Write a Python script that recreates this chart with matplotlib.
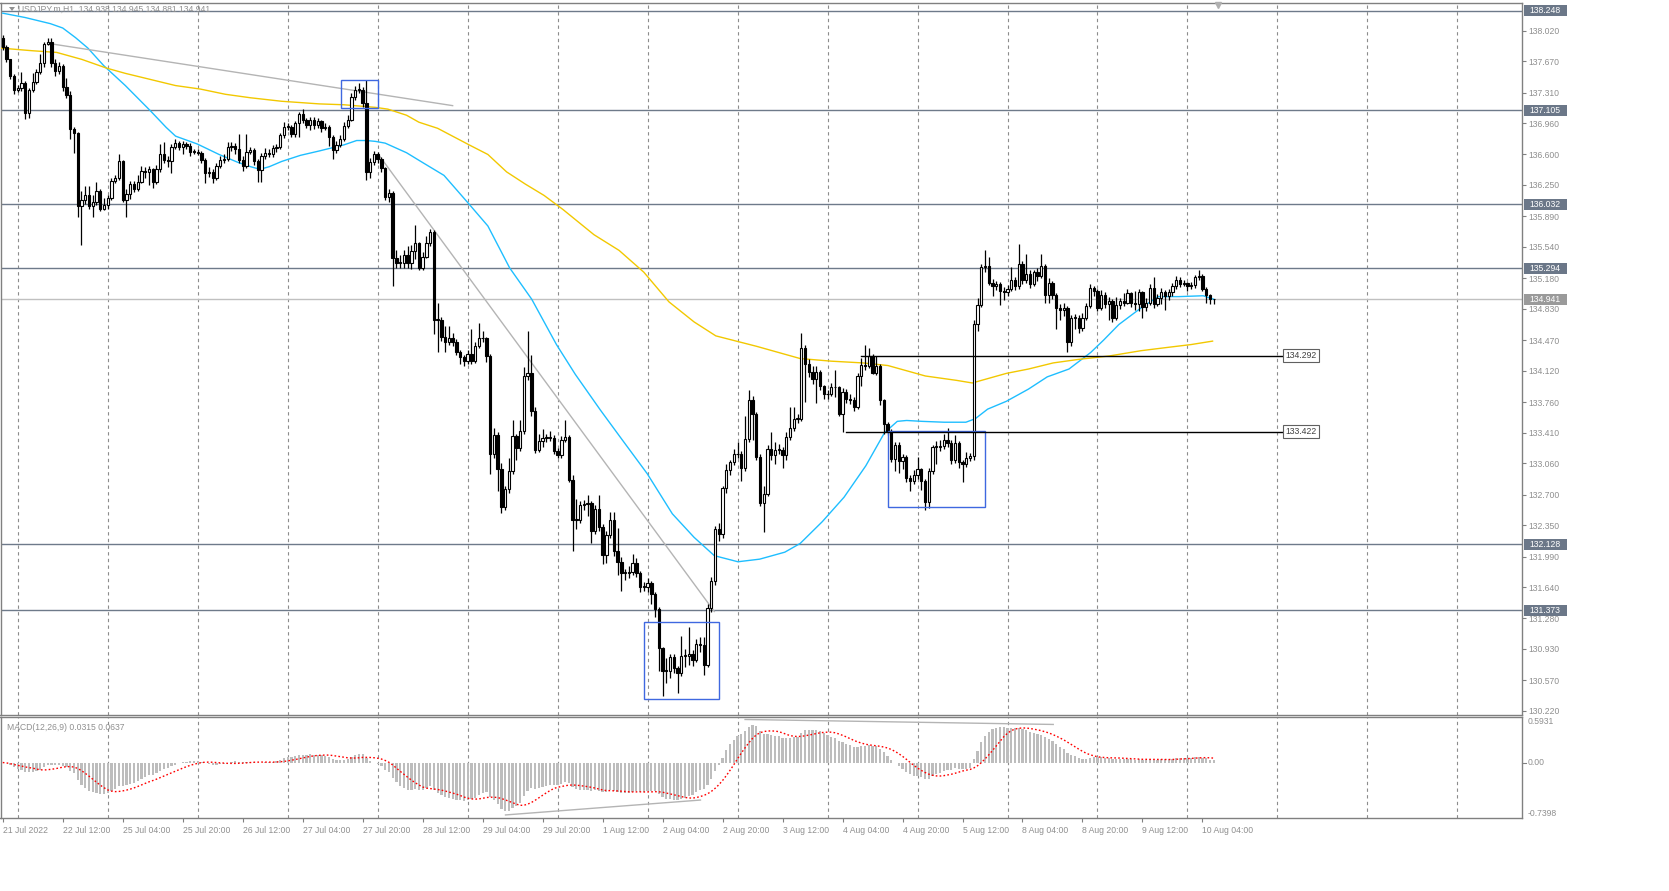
import matplotlib
matplotlib.use('Agg')
import matplotlib.pyplot as plt
import matplotlib.transforms as mtransforms
from matplotlib.patches import Rectangle, Polygon
import numpy as np
import pandas as pd

plt.rcParams['font.family'] = ['Liberation Sans', 'DejaVu Sans']

# ---- data (USDJPY.m H1, bar 0 = 21 Jul 2022 20:00) ----
first_open = 137.94
closes = [
    137.83, 137.69, 137.50, 137.34, 137.36, 137.42, 137.07, 137.34, 137.43, 137.55,
    137.65, 137.87, 137.89, 137.65, 137.56, 137.62, 137.37, 137.28, 136.89, 136.85,
    136.01, 136.08, 136.13, 136.01, 136.06, 136.18, 135.98, 136.02, 136.10, 136.30,
    136.33, 136.52, 136.08, 136.15, 136.26, 136.20, 136.29, 136.41, 136.40, 136.43,
    136.29, 136.43, 136.60, 136.54, 136.53, 136.69, 136.73, 136.69, 136.72, 136.70,
    136.63, 136.63, 136.62, 136.54, 136.39, 136.40, 136.33, 136.47, 136.54, 136.55,
    136.69, 136.70, 136.66, 136.54, 136.47, 136.63, 136.65, 136.52, 136.42, 136.58,
    136.62, 136.61, 136.67, 136.69, 136.82, 136.92, 136.92, 136.84, 136.96, 137.06,
    136.99, 136.94, 137.00, 136.94, 136.98, 136.90, 136.92, 136.80, 136.65, 136.71,
    136.78, 136.93, 137.00, 137.26, 137.34, 137.34, 137.19, 136.40, 136.51, 136.60,
    136.55, 136.44, 136.11, 136.16, 135.41, 135.36, 135.36, 135.45, 135.36, 135.49,
    135.58, 135.30, 135.43, 135.58, 135.71, 134.70, 134.70, 134.51, 134.45, 134.50,
    134.45, 134.33, 134.28, 134.23, 134.31, 134.23, 134.40, 134.49, 134.49, 134.29,
    133.16, 133.38, 132.99, 132.56, 132.76, 132.97, 133.37, 133.23, 133.43, 134.06,
    134.10, 133.66, 133.21, 133.31, 133.35, 133.35, 133.35, 133.20, 133.15, 133.33,
    133.36, 132.87, 132.41, 132.41, 132.58, 132.59, 132.60, 132.28, 132.53, 132.33,
    132.01, 132.24, 132.41, 132.05, 131.93, 131.80, 131.80, 131.81, 131.92, 131.80,
    131.64, 131.64, 131.69, 131.56, 131.39, 130.94, 130.68, 130.68, 130.84, 130.71,
    130.65, 130.85, 130.85, 130.87, 130.80, 130.99, 130.98, 130.75, 131.40, 131.71,
    132.31, 132.25, 132.78, 132.98, 133.07, 133.16, 133.17, 133.00, 133.34, 133.79,
    133.62, 133.13, 132.60, 132.71, 133.22, 133.15, 133.21, 133.21, 133.15, 133.36,
    133.46, 133.57, 133.57, 134.38, 134.20, 134.11, 134.03, 134.11, 133.94, 133.85,
    133.85, 133.93, 133.93, 133.62, 133.88, 133.80, 133.78, 133.70, 134.06, 134.19,
    134.17, 134.29, 134.10, 134.18, 133.78, 133.51, 133.43, 133.11, 133.27, 133.08,
    133.13, 132.89, 132.86, 132.92, 132.99, 132.86, 132.61, 132.97, 133.25, 133.25,
    133.26, 133.33, 133.29, 133.10, 133.29, 133.07, 133.05, 133.12, 133.14, 134.66,
    134.87, 135.31, 135.32, 135.13, 135.09, 135.11, 135.03, 135.02, 135.06, 135.16,
    135.09, 135.34, 135.16, 135.23, 135.11, 135.25, 135.21, 135.32, 134.99, 135.13,
    134.99, 134.84, 134.82, 134.84, 134.45, 134.73, 134.73, 134.61, 134.73, 134.86,
    135.07, 135.04, 134.84, 134.99, 134.88, 134.92, 134.73, 134.87, 134.92, 134.90,
    135.01, 134.90, 134.88, 135.02, 134.85, 134.90, 135.07, 134.89, 134.95, 135.02,
    134.98, 135.02, 135.09, 135.16, 135.11, 135.13, 135.09, 135.10, 135.19, 135.21,
    135.06, 134.99, 134.94, 134.941,
]
highs = [
    137.97, 137.85, 137.70, 137.52, 137.40, 137.55, 137.44, 137.36, 137.53, 137.58,
    137.75, 137.89, 137.94, 137.94, 137.70, 137.66, 137.64, 137.48, 137.33, 136.92,
    136.86, 136.18, 136.24, 136.24, 136.14, 136.28, 136.20, 136.10, 136.14, 136.33,
    136.36, 136.61, 136.54, 136.20, 136.30, 136.30, 136.36, 136.47, 136.46, 136.47,
    136.45, 136.48, 136.72, 136.74, 136.58, 136.72, 136.78, 136.76, 136.75, 136.74,
    136.73, 136.66, 136.66, 136.64, 136.56, 136.46, 136.43, 136.50, 136.58, 136.60,
    136.74, 136.74, 136.73, 136.83, 136.58, 136.83, 136.69, 136.67, 136.55, 136.62,
    136.67, 136.66, 136.71, 136.72, 136.85, 136.97, 136.96, 136.94, 136.98, 137.09,
    137.12, 137.02, 137.03, 137.03, 137.02, 137.00, 136.96, 136.94, 136.82, 136.75,
    136.82, 136.97, 137.05, 137.30, 137.38, 137.42, 137.37, 137.45, 136.56, 136.64,
    136.63, 136.57, 136.46, 136.20, 136.18, 135.50, 135.45, 135.50, 135.55, 135.56,
    135.79, 135.60, 135.48, 135.66, 135.75, 135.73, 134.90, 134.74, 134.63, 134.63,
    134.55, 134.48, 134.36, 134.30, 134.36, 134.60, 134.45, 134.67, 134.58, 134.51,
    134.31, 133.46, 133.42, 133.06, 132.80, 133.12, 133.55, 133.40, 133.55, 134.16,
    134.58, 134.30, 133.70, 133.40, 133.45, 133.40, 133.43, 133.38, 133.24, 133.37,
    133.55, 133.38, 132.92, 132.65, 132.63, 132.64, 132.70, 132.63, 132.58, 132.70,
    132.36, 132.28, 132.50, 132.50, 132.32, 131.98, 131.85, 131.88, 132.02, 131.97,
    131.82, 131.70, 131.74, 131.71, 131.58, 131.41, 130.95, 130.83, 130.87, 130.87,
    130.73, 131.08, 130.93, 131.18, 130.92, 131.05, 131.07, 131.07, 131.44, 131.75,
    132.34, 132.37, 132.80, 133.05, 133.10, 133.22, 133.30, 133.20, 133.60, 133.90,
    133.83, 133.65, 133.16, 132.80, 133.27, 133.42, 133.30, 133.28, 133.25, 133.42,
    133.70, 133.70, 133.62, 134.55, 134.41, 134.26, 134.17, 134.17, 134.13, 133.96,
    133.90, 133.98, 134.13, 133.95, 133.92, 133.91, 133.85, 133.82, 134.10, 134.27,
    134.42, 134.38, 134.31, 134.29, 134.20, 133.80, 133.53, 133.45, 133.30, 133.30,
    133.17, 133.15, 132.93, 132.98, 133.13, 133.01, 132.88, 133.01, 133.27, 133.32,
    133.33, 133.40, 133.46, 133.33, 133.38, 133.31, 133.10, 133.19, 133.18, 134.70,
    134.95, 135.34, 135.50, 135.42, 135.17, 135.15, 135.14, 135.08, 135.10, 135.31,
    135.20, 135.57, 135.38, 135.46, 135.27, 135.28, 135.30, 135.46, 135.34, 135.18,
    135.15, 135.01, 134.88, 134.90, 134.86, 134.76, 134.77, 134.76, 134.78, 134.90,
    135.11, 135.09, 135.06, 135.05, 135.02, 134.97, 134.94, 134.97, 134.96, 135.01,
    135.06, 135.02, 135.04, 135.06, 135.04, 134.95, 135.11, 135.19, 135.00, 135.07,
    135.05, 135.06, 135.13, 135.21, 135.20, 135.16, 135.14, 135.14, 135.22, 135.28,
    135.23, 135.08, 135.00, 134.945,
]
lows = [
    137.80, 137.66, 137.47, 137.29, 137.32, 137.33, 137.01, 137.02, 137.32, 137.41,
    137.52, 137.60, 137.85, 137.60, 137.50, 137.52, 137.33, 137.25, 136.78, 136.62,
    135.88, 135.56, 136.03, 135.97, 135.88, 136.02, 135.95, 135.96, 135.98, 136.08,
    136.27, 136.31, 136.05, 135.88, 136.09, 136.17, 136.18, 136.27, 136.33, 136.25,
    136.22, 136.26, 136.40, 136.50, 136.46, 136.39, 136.66, 136.65, 136.60, 136.66,
    136.58, 136.60, 136.59, 136.50, 136.27, 136.34, 136.27, 136.31, 136.44, 136.50,
    136.53, 136.64, 136.60, 136.50, 136.41, 136.45, 136.60, 136.48, 136.29, 136.29,
    136.55, 136.57, 136.57, 136.63, 136.66, 136.79, 136.88, 136.80, 136.80, 136.80,
    136.96, 136.90, 136.88, 136.89, 136.90, 136.86, 136.88, 136.70, 136.55, 136.62,
    136.69, 136.76, 136.90, 136.98, 137.23, 137.30, 137.15, 136.31, 136.33, 136.48,
    136.50, 136.40, 136.08, 136.05, 135.09, 135.30, 135.30, 135.30, 135.30, 135.29,
    135.40, 135.28, 135.28, 135.41, 135.55, 134.54, 134.33, 134.46, 134.33, 134.42,
    134.40, 134.30, 134.20, 134.18, 134.20, 134.20, 134.21, 134.38, 134.45, 134.22,
    132.94, 133.12, 132.74, 132.49, 132.52, 132.72, 132.94, 133.10, 133.20, 133.40,
    134.01, 133.60, 133.18, 133.19, 133.25, 133.30, 133.31, 133.17, 133.12, 133.12,
    133.30, 132.84, 132.05, 132.30, 132.38, 132.52, 132.46, 132.15, 132.25, 132.28,
    131.90, 131.92, 132.20, 132.00, 131.78, 131.60, 131.72, 131.74, 131.78, 131.75,
    131.58, 131.60, 131.58, 131.45, 131.30, 130.68, 130.39, 130.54, 130.60, 130.65,
    130.42, 130.62, 130.72, 130.75, 130.74, 130.78, 130.90, 130.63, 130.72, 131.35,
    131.66, 132.17, 132.20, 132.72, 132.93, 133.04, 133.12, 132.86, 132.97, 133.30,
    133.33, 133.10, 132.57, 132.27, 132.68, 133.10, 133.05, 133.16, 133.00, 133.10,
    133.33, 133.43, 133.52, 133.54, 133.76, 134.05, 133.97, 133.75, 133.90, 133.80,
    133.80, 133.83, 133.82, 133.60, 133.42, 133.75, 133.74, 133.66, 133.68, 133.95,
    134.13, 134.15, 134.08, 134.07, 133.73, 133.40, 133.38, 133.07, 132.97, 132.95,
    132.99, 132.84, 132.74, 132.82, 132.88, 132.75, 132.52, 132.55, 132.94, 133.05,
    133.20, 133.22, 133.25, 133.05, 133.06, 133.00, 132.84, 133.02, 133.08, 133.10,
    134.58, 134.85, 135.25, 135.10, 134.98, 135.05, 134.87, 134.93, 134.98, 135.04,
    135.05, 135.06, 135.12, 135.13, 135.07, 135.09, 135.15, 135.18, 134.90, 134.90,
    134.94, 134.60, 134.70, 134.75, 134.34, 134.40, 134.60, 134.55, 134.58, 134.70,
    134.84, 134.98, 134.80, 134.82, 134.84, 134.70, 134.68, 134.70, 134.83, 134.86,
    134.88, 134.85, 134.82, 134.80, 134.73, 134.80, 134.87, 134.84, 134.86, 134.88,
    134.82, 134.93, 134.98, 135.06, 135.08, 135.09, 135.03, 135.06, 135.07, 135.16,
    135.03, 134.90, 134.89, 134.881,
]

# moving averages (bar, price)
ma_fast_bar = [0, 6, 12.7, 16, 19.4, 22.7, 26.9, 32.7, 39.4, 43.6, 46.1, 51.9, 57.7,
               62.7, 66.1, 68.6, 71.1, 74.4, 79.4, 84.4, 91, 94.4, 97, 99.4, 102,
               107.7, 111.9, 117.7, 124.4, 129.4, 135.2, 141.1, 147.7, 152.7, 159.4,
               165.2, 171.9, 178.6, 184.4, 189.8, 196.1, 201.9, 208.6, 212.7, 218.6,
               224.4, 230.2, 235.2, 238.6, 241.1, 245.2, 251.1, 256.9, 259.4, 262.7,
               267.7, 273.6, 278.6, 284.4, 290.2, 293.6, 297.7, 303.6, 308.2, 313.6,
               320.2, 323]
ma_fast_val = [138.22, 138.17, 138.10, 138.05, 137.94, 137.82, 137.62, 137.39, 137.10,
               136.91, 136.81, 136.72, 136.60, 136.51, 136.46, 136.43, 136.46, 136.52,
               136.59, 136.64, 136.71, 136.76, 136.76, 136.75, 136.73, 136.62, 136.51,
               136.36, 136.03, 135.78, 135.30, 134.94, 134.42, 134.08, 133.67, 133.33,
               132.94, 132.48, 132.21, 132.00, 131.93, 131.96, 132.04, 132.14, 132.39,
               132.67, 133.03, 133.41, 133.54, 133.55, 133.54, 133.53, 133.53, 133.57,
               133.68, 133.77, 133.91, 134.05, 134.14, 134.33, 134.47, 134.65, 134.84,
               134.97, 134.97, 134.98, 134.94]
ma_slow_bar = [-0.6, 7.7, 14.4, 21.1, 27.7, 32.7, 39.4, 46.1, 52.7, 59.4, 66.1, 74.4,
               84.4, 91, 99.4, 102.7, 107.7, 111, 116, 124.4, 129.4, 134.4, 139.4,
               144.4, 149.4, 157.7, 164.4, 171, 177.7, 184.4, 190.2, 201.1, 212.7, 221,
               229.4, 236.1, 246.1, 254.4, 258.6, 261.9, 267.7, 273.6, 280.2, 286.9,
               295.2, 303.6, 311.1, 316.9, 322.7]
ma_slow_val = [137.82, 137.79, 137.77, 137.69, 137.59, 137.53, 137.46, 137.39, 137.35,
               137.29, 137.25, 137.21, 137.18, 137.17, 137.14, 137.12, 137.05, 136.97,
               136.90, 136.71, 136.60, 136.40, 136.26, 136.13, 135.97, 135.68, 135.50,
               135.25, 134.91, 134.68, 134.52, 134.40, 134.26, 134.23, 134.21, 134.18,
               134.06, 134.01, 133.98, 134.02, 134.09, 134.14, 134.21, 134.25, 134.29,
               134.35, 134.39, 134.42, 134.46]

levels = [138.248, 137.105, 136.032, 135.294, 132.128, 131.373]
bid = 134.941
price_ticks = [138.020, 137.670, 137.310, 136.960, 136.600, 136.250, 135.890, 135.540,
               135.180, 134.830, 134.470, 134.120, 133.760, 133.410, 133.060, 132.700,
               132.350, 131.990, 131.640, 131.280, 130.930, 130.570, 130.220]
date_labels = ['21 Jul 2022', '22 Jul 12:00', '25 Jul 04:00', '25 Jul 20:00', '26 Jul 12:00',
               '27 Jul 04:00', '27 Jul 20:00', '28 Jul 12:00', '29 Jul 04:00', '29 Jul 20:00',
               '1 Aug 12:00', '2 Aug 04:00', '2 Aug 20:00', '3 Aug 12:00', '4 Aug 04:00',
               '4 Aug 20:00', '5 Aug 12:00', '8 Aug 04:00', '8 Aug 20:00', '9 Aug 12:00',
               '10 Aug 04:00']
date_label_bars = list(range(0, 321, 16))
day_start_bars = list(range(4, 405, 24))

# drawn objects (bar, price)
trend_lines = [((12.7, 137.87), (120.0, 137.16)), ((100.2, 136.60), (189.8, 131.36))]
boxes = [((90.1, 137.13), (100.2, 137.455)), ((171.1, 130.36), (191.0, 131.234)),
         ((236.0, 132.553), (262.0, 133.424))]
price_marks = [(229.0, 134.292), (224.9, 133.422)]
mark_end = 341.5
macd_lines = [((134.1, -0.739), (186.1, -0.529)), ((198.0, 0.607), (280.2, 0.537))]

# ---- figure ----
W, H = 1669, 891
fig = plt.figure(figsize=(W / 100, H / 100), dpi=100)
AX_L, AX_R = 0.5, 1521.5
ax = fig.add_axes([AX_L / W, 1 - 715 / H, (AX_R - AX_L) / W, (715 - 2.5) / H])
axm = fig.add_axes([AX_L / W, 1 - 817.5 / H, (AX_R - AX_L) / W, (817.5 - 717) / H], sharex=ax)

FG = '#808080'
TXT = '#8f8f8f'
LVL = '#6e7a8a'

o = np.array([first_open] + closes[:-1])
c = np.array(closes)
h = np.array(highs)
l = np.array(lows)
x = np.arange(len(c))
up = c >= o

ax.vlines(x, l, h, color='black', lw=0.9, zorder=4)
lo = np.minimum(o, c)
hh = np.maximum(np.abs(c - o), 0.008)
ax.bar(x[up], hh[up], bottom=lo[up], width=0.62, color='white', edgecolor='black',
       lw=0.8, zorder=5)
ax.bar(x[~up], hh[~up], bottom=lo[~up], width=0.62, color='black', edgecolor='black',
       lw=0.8, zorder=5)

ax.plot(ma_fast_bar, ma_fast_val, color='#1ebeff', lw=1.0, zorder=3)
ax.plot(ma_slow_bar, ma_slow_val, color='#f2c800', lw=1.0, zorder=3)

for lv in levels:
    ax.axhline(lv, color=LVL, lw=1.0, zorder=2)
ax.axhline(bid, color='#c0c0c0', lw=1.0, zorder=2)

for (x0, y0), (x1, y1) in trend_lines:
    ax.plot([x0, x1], [y0, y1], color='#b4b4b4', lw=1.0, zorder=3)
for (x0, y0), (x1, y1) in boxes:
    ax.add_patch(Rectangle((x0, y0), x1 - x0, y1 - y0, fill=False, ec='#3f68e0',
                           lw=1.0, zorder=6))
for xs, pm in price_marks:
    ax.plot([xs, mark_end], [pm, pm], color='black', lw=1.0, zorder=6)
    ax.text(mark_end + 0.6, pm, f'{pm:.3f}', fontsize=6.2, color='#404040',
            va='center', ha='left', zorder=7,
            bbox=dict(boxstyle='square,pad=0.25', fc='white', ec='#606060', lw=0.8))

# vertical day grid
for a in (ax, axm):
    for b in day_start_bars:
        a.axvline(b, color='#8c8c8c', lw=0.8, ls=(0, (3, 3)), zorder=1)

ax.set_xlim(-0.6, 405.1)
ax.set_ylim(130.173, 138.3425)

# price axis
ax.yaxis.tick_right()
ax.set_yticks(price_ticks)
ax.set_yticklabels([f'{v:.3f}' for v in price_ticks])
ax.tick_params(axis='y', length=3, width=0.8, color=FG, labelsize=6.2,
               labelcolor=TXT, pad=2)
ax.tick_params(axis='x', bottom=False, labelbottom=False)
for s in ax.spines.values():
    s.set_color(FG)
    s.set_linewidth(1.0)

yt = mtransforms.blended_transform_factory(ax.transAxes, ax.transData)
box_w = 43 / (AX_R - AX_L)
box_h = 11 / (712.5 / (138.3425 - 130.173))
for lv, fc in [(v, '#6b7788') for v in levels] + [(bid, '#9a9a9a')]:
    ax.add_patch(Rectangle((1.0015, lv - box_h / 2), box_w, box_h, transform=yt,
                           fc=fc, ec='none', clip_on=False, zorder=8))
    ax.text(1.0015 + box_w / 2, lv, f'{lv:.3f}', transform=yt, fontsize=6.2,
            color='white', ha='center', va='center', zorder=9, clip_on=False)

# shift marker
ax.plot([324.2], [138.31], marker='v', ms=4, color='#b0b0b0', clip_on=False, zorder=9)

# header
fig.text(18 / W, 1 - 9.5 / H, 'USDJPY.m,H1  134.938 134.945 134.881 134.941',
         fontsize=6.2, color=TXT, va='center', ha='left')
fig.add_artist(Polygon([[(9) / W, 1 - 7 / H], [(15) / W, 1 - 7 / H], [(12) / W, 1 - 11 / H]],
                       closed=True, fc='#909090', ec='none', transform=fig.transFigure))

# ---- MACD ----
s = pd.Series(closes)
macd = s.ewm(span=12, adjust=False).mean() - s.ewm(span=26, adjust=False).mean()
signal = macd.rolling(9, min_periods=1).mean()
axm.bar(x, macd.values, width=0.6, color='#bdbdbd', zorder=2)
axm.plot(x, signal.values, color='red', lw=1.0, ls=(0, (1.2, 1.6)), zorder=3)
for (x0, y0), (x1, y1) in macd_lines:
    axm.plot([x0, x1], [y0, y1], color='#b4b4b4', lw=1.0, zorder=3)
axm.set_ylim(-0.775, 0.642)
axm.set_yticks([])
for s_ in axm.spines.values():
    s_.set_color(FG)
    s_.set_linewidth(1.0)
mt = mtransforms.blended_transform_factory(axm.transAxes, axm.transData)
axm.text(1.004, 0.642, '0.5931', transform=mt, fontsize=6.2, color=TXT, va='top', ha='left')
axm.text(1.004, 0.0, '0.00', transform=mt, fontsize=6.2, color=TXT, va='center', ha='left')
axm.text(1.004, -0.775, '-0.7398', transform=mt, fontsize=6.2, color=TXT, va='bottom',
         ha='left')
axm.plot([1.0, 1.003], [0.0, 0.0], transform=mt, color=FG, lw=0.8, clip_on=False)
axm.text(0.0045, 0.90, 'MACD(12,26,9) 0.0315 0.0637', transform=axm.transAxes,
         fontsize=6.2, color=TXT, va='center', ha='left')

axm.set_xticks(date_label_bars)
axm.set_xticklabels(date_labels)
axm.tick_params(axis='x', length=3, width=0.8, color=FG, labelsize=6.2,
                labelcolor=TXT, pad=3)
for t in axm.get_xticklabels():
    t.set_horizontalalignment('left')

fig.savefig('out.png', dpi=100, facecolor='white')
